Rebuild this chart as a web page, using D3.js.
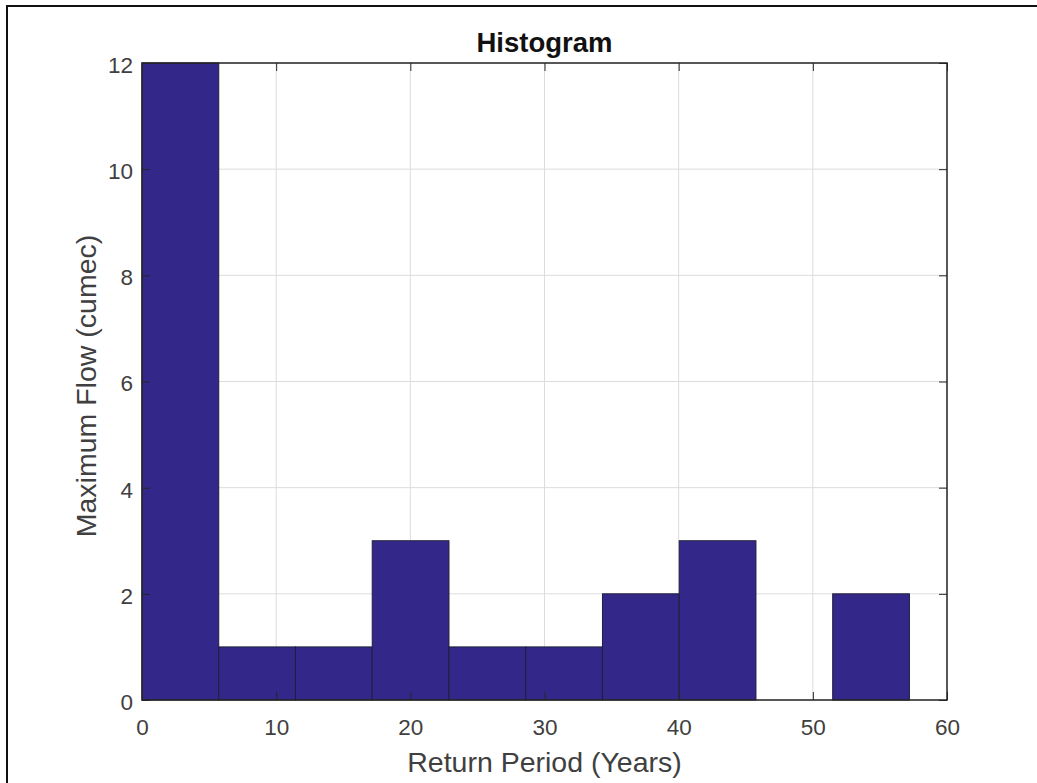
<!DOCTYPE html>
<html><head><meta charset="utf-8">
<script src="https://cdn.jsdelivr.net/npm/d3@7"></script>
<style>body{margin:0;background:#fff}svg{display:block}</style>
</head><body>
<script>
const binEdges = [0, 5.72, 11.44, 17.16, 22.88, 28.6, 34.32, 40.04, 45.76, 51.48, 57.2];
const counts = [12, 1, 1, 3, 1, 1, 2, 3, 0, 2];
const xTicks = [0, 10, 20, 30, 40, 50, 60];
const yTicks = [0, 2, 4, 6, 8, 10, 12];
const titleText = "Histogram";
const xLabel = "Return Period (Years)";
const yLabel = "Maximum Flow (cumec)";

const W = 1037, H = 783;
const L = 142, R = 947, T = 63, B = 700;
const svg = d3.select("body").append("svg").attr("width", W).attr("height", H);
svg.append("rect").attr("x", 7).attr("y", 6).attr("width", W + 10).attr("height", H + 10)
  .attr("fill", "#fff").attr("stroke", "#111").attr("stroke-width", 2);

const x = d3.scaleLinear().domain([0, 60]).range([L, R]);
const y = d3.scaleLinear().domain([0, 12]).range([B, T]);
const font = "'Liberation Sans', Arial, Helvetica, sans-serif";

// grid
const g = svg.append("g");
g.selectAll(".gx").data(xTicks).enter().append("line")
  .attr("x1", d => x(d)).attr("x2", d => x(d)).attr("y1", T).attr("y2", B)
  .attr("stroke", "#dcdcdc").attr("stroke-width", 1);
g.selectAll(".gy").data(yTicks).enter().append("line")
  .attr("y1", d => y(d)).attr("y2", d => y(d)).attr("x1", L).attr("x2", R)
  .attr("stroke", "#dcdcdc").attr("stroke-width", 1);

// bars
const bins = counts.map((c, i) => ({x0: binEdges[i], x1: binEdges[i + 1], c}));
svg.selectAll(".bar").data(bins).enter().append("rect")
  .attr("x", d => x(d.x0)).attr("width", d => x(d.x1) - x(d.x0))
  .attr("y", d => y(d.c)).attr("height", d => y(0) - y(d.c))
  .attr("fill", "#33288a").attr("stroke", "#1f1f3a").attr("stroke-width", 1);

// axes (ticks inside)
const ax = svg.append("g");
const tickLen = 8;
ax.append("g").attr("transform", `translate(0,${B})`)
  .call(d3.axisBottom(x).tickValues(xTicks).tickSizeInner(-tickLen).tickSizeOuter(0).tickPadding(19))
  .call(s => s.select(".domain").remove());
ax.append("g").attr("transform", `translate(0,${T})`)
  .call(d3.axisTop(x).tickValues(xTicks).tickSizeInner(-tickLen).tickSizeOuter(0).tickFormat(""))
  .call(s => s.select(".domain").remove());
const yax = ax.append("g").attr("transform", `translate(${L},0)`)
  .call(d3.axisLeft(y).tickValues(yTicks).tickSizeInner(-tickLen).tickSizeOuter(0).tickPadding(9))
  .call(s => s.select(".domain").remove());
yax.selectAll(".tick text").attr("dy", "0.42em");
ax.append("g").attr("transform", `translate(${R},0)`)
  .call(d3.axisRight(y).tickValues(yTicks).tickSizeInner(-tickLen).tickSizeOuter(0).tickFormat(""))
  .call(s => s.select(".domain").remove());
ax.selectAll("g").attr("font-family", font).attr("font-size", 22.5);
ax.selectAll(".tick line").attr("stroke", "#262626");
ax.selectAll(".tick text").attr("fill", "#404040");

// box
svg.append("rect").attr("x", L).attr("y", T).attr("width", R - L).attr("height", B - T)
  .attr("fill", "none").attr("stroke", "#262626").attr("stroke-width", 1.5);

// labels
svg.append("text").attr("x", (L + R) / 2).attr("y", 52).attr("text-anchor", "middle")
  .attr("font-family", font).attr("font-weight", "bold").attr("font-size", 27.5).attr("fill", "#111").text(titleText);
svg.append("text").attr("x", (L + R) / 2).attr("y", 772).attr("text-anchor", "middle")
  .attr("font-family", font).attr("font-size", 28.5).attr("fill", "#404040").text(xLabel);
svg.append("text").attr("transform", `translate(96,386) rotate(-90)`).attr("text-anchor", "middle")
  .attr("font-family", font).attr("font-size", 28.5).attr("fill", "#404040").text(yLabel);
</script>
</body></html>
